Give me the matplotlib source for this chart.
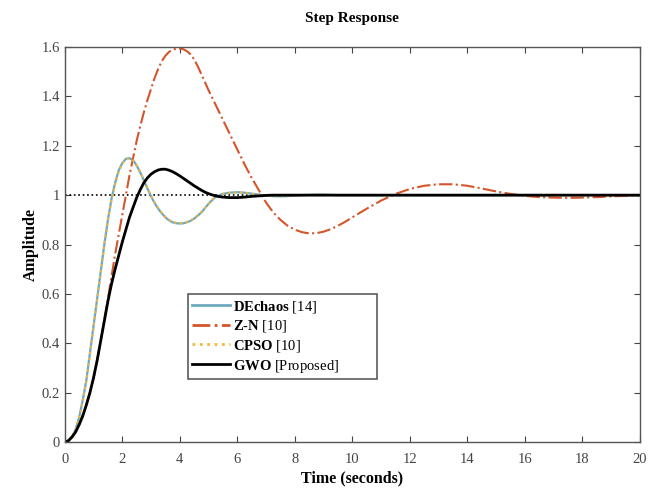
import matplotlib
matplotlib.use("Agg")
import matplotlib.pyplot as plt

plt.rcParams['font.family'] = ['Liberation Serif', 'DejaVu Serif']
plt.rcParams['mathtext.fontset'] = 'custom'
plt.rcParams['mathtext.rm'] = 'Liberation Serif'
plt.rcParams['mathtext.bf'] = 'Liberation Serif:bold'

# ---- data ----
time = [0.0, 0.125, 0.25, 0.375, 0.5, 0.625, 0.75, 0.875, 1.0, 1.125, 1.25, 1.375,
        1.5, 1.625, 1.75, 1.875, 2.0, 2.125, 2.25, 2.375, 2.5, 2.625, 2.75, 2.875,
        3.0, 3.125, 3.25, 3.375, 3.5, 3.625, 3.75, 3.875, 4.0, 4.125, 4.25, 4.375,
        4.5, 4.625, 4.75, 4.875, 5.0, 5.125, 5.25, 5.375, 5.5, 5.625, 5.75, 5.875,
        6.0, 6.25, 6.5, 6.75, 7.0, 7.25, 7.5, 7.75, 8.0, 8.25, 8.5, 8.75, 9.0,
        9.25, 9.5, 9.75, 10.0, 10.5, 11.0, 11.5, 12.0, 12.5, 13.0, 13.5,
        14.0, 14.5, 15.0, 15.5, 16.0, 16.5, 17.0, 17.5, 18.0, 18.5, 19.0,
        19.5, 20.0]

dechaos = [0.0, 0.005, 0.02, 0.05, 0.10, 0.17, 0.25, 0.36, 0.47, 0.58, 0.69, 0.80,
           0.90, 0.985, 1.05, 1.10, 1.13, 1.147, 1.15, 1.142, 1.12, 1.092, 1.06, 1.027,
           0.995, 0.968, 0.945, 0.926, 0.91, 0.898, 0.89, 0.886, 0.885, 0.886, 0.89, 0.896,
           0.905, 0.917, 0.93, 0.947, 0.965, 0.98, 0.993, 1.0, 1.005, 1.008, 1.01, 1.011,
           1.012, 1.01, 1.006, 1.002, 0.998, 0.996, 0.995, 0.996, 0.998, 1.0, 1.001, 1.002, 1.002,
           1.001, 1.0, 1.0, 1.0, 1.0, 1.0, 1.0, 1.0, 1.0, 1.0, 1.0,
           1.0, 1.0, 1.0, 1.0, 1.0, 1.0, 1.0, 1.0, 1.0, 1.0, 1.0,
           1.0, 1.0]

zn = [0.0, 0.005, 0.02, 0.04, 0.07, 0.11, 0.15, 0.20, 0.26, 0.33, 0.41, 0.495,
      0.58, 0.67, 0.76, 0.84, 0.92, 1.0, 1.08, 1.15, 1.22, 1.28, 1.335, 1.385,
      1.43, 1.475, 1.512, 1.543, 1.565, 1.58, 1.589, 1.593, 1.594, 1.591, 1.583, 1.57,
      1.55, 1.522, 1.49, 1.458, 1.425, 1.395, 1.365, 1.335, 1.305, 1.275, 1.245, 1.215,
      1.185, 1.125, 1.07, 1.02, 0.97, 0.93, 0.90, 0.876, 0.86, 0.85, 0.845, 0.846, 0.852,
      0.862, 0.876, 0.892, 0.91, 0.945, 0.978, 1.005, 1.025, 1.038, 1.044, 1.044,
      1.038, 1.027, 1.015, 1.005, 0.997, 0.992, 0.99, 0.989, 0.99, 0.992, 0.995,
      0.997, 0.999]

cpso = [0.0, 0.005, 0.02, 0.05, 0.10, 0.165, 0.245, 0.355, 0.465, 0.575, 0.685, 0.795,
        0.895, 0.98, 1.045, 1.095, 1.127, 1.145, 1.148, 1.141, 1.12, 1.093, 1.061, 1.029,
        0.998, 0.97, 0.947, 0.928, 0.912, 0.9, 0.892, 0.888, 0.887, 0.888, 0.892, 0.898,
        0.907, 0.918, 0.932, 0.948, 0.966, 0.981, 0.993, 1.0, 1.005, 1.008, 1.009, 1.01,
        1.011, 1.009, 1.005, 1.002, 0.998, 0.996, 0.996, 0.997, 0.998, 1.0, 1.001, 1.001, 1.001,
        1.001, 1.0, 1.0, 1.0, 1.0, 1.0, 1.0, 1.0, 1.0, 1.0, 1.0,
        1.0, 1.0, 1.0, 1.0, 1.0, 1.0, 1.0, 1.0, 1.0, 1.0, 1.0,
        1.0, 1.0]

gwo = [0.0, 0.005, 0.02, 0.04, 0.07, 0.105, 0.15, 0.20, 0.26, 0.33, 0.41, 0.49,
       0.57, 0.64, 0.70, 0.755, 0.81, 0.86, 0.91, 0.95, 0.99, 1.022, 1.05, 1.07,
       1.085, 1.095, 1.102, 1.105, 1.105, 1.101, 1.095, 1.087, 1.078, 1.068, 1.058, 1.048,
       1.038, 1.029, 1.02, 1.012, 1.006, 1.001, 0.997, 0.994, 0.992, 0.991, 0.99, 0.99,
       0.99, 0.992, 0.995, 0.997, 0.999, 1.0, 1.0, 1.0, 1.0, 1.0, 1.0, 1.0, 1.0,
       1.0, 1.0, 1.0, 1.0, 1.0, 1.0, 1.0, 1.0, 1.0, 1.0, 1.0,
       1.0, 1.0, 1.0, 1.0, 1.0, 1.0, 1.0, 1.0, 1.0, 1.0, 1.0,
       1.0, 1.0]

reference_t = [0, 20]
reference_y = [1, 1]

labels = [r"$\mathbf{DEchaos}$ [14]", r"$\mathbf{Z}$-$\mathbf{N}$ [10]",
          r"$\mathbf{CPSO}$ [10]", r"$\mathbf{GWO}$ [Proposed]"]

x_ticks = [0, 2, 4, 6, 8, 10, 12, 14, 16, 18, 20]
y_ticks = [0, 0.2, 0.4, 0.6, 0.8, 1.0, 1.2, 1.4, 1.6]
y_tick_labels = ['0', '0.2', '0.4', '0.6', '0.8', '1', '1.2', '1.4', '1.6']

# ---- figure ----
fig = plt.figure(figsize=(6.61, 4.90), dpi=100)
ax = fig.add_axes([0.098, 0.098, 0.870, 0.806])

ax.plot(reference_t, reference_y, color='black', linestyle=':', lw=1.2)
l1, = ax.plot(time, dechaos, color='#6fa9bf', lw=1.6, label=labels[0])
l2, = ax.plot(time, zn, color='#d4552b', lw=1.5, linestyle='-.', label=labels[1])
l3, = ax.plot(time, cpso, color='#f0b840', lw=1.6, linestyle=':', label=labels[2])
l4, = ax.plot(time, gwo, color='black', lw=2.0, label=labels[3])

ax.set_xlim(0, 20)
ax.set_ylim(0, 1.6)
ax.set_xticks(x_ticks)
ax.set_xticklabels([str(v) for v in x_ticks])
ax.set_yticks(y_ticks)
ax.set_yticklabels(y_tick_labels)
ax.tick_params(direction='in', top=True, right=True, labelsize=10.5,
               colors='#444444', length=4)
ax.tick_params(axis='x', pad=8)
for s in ax.spines.values():
    s.set_color('#555555')
    s.set_linewidth(1.0)

ax.set_title('Step Response', fontsize=11, fontweight='bold', pad=18)
ax.set_xlabel('Time (seconds)', fontsize=11.5, fontweight='bold', labelpad=3)
ax.set_ylabel('Amplitude', fontsize=11.5, fontweight='bold', labelpad=2)

leg = ax.legend(handles=[l1, l2, l3, l4], loc='upper left',
                bbox_to_anchor=(0.214, 0.158, 0.329, 0.216), mode='expand',
                fontsize=10.5, frameon=True,
                fancybox=False, edgecolor='#333333', handlelength=2.6,
                handletextpad=0.2, borderpad=0.3, labelspacing=0.25,
                borderaxespad=0)
leg.get_frame().set_linewidth(1.2)
for lh in leg.get_lines():
    lh.set_linewidth(2.0)

fig.savefig('out.png', dpi=100)
